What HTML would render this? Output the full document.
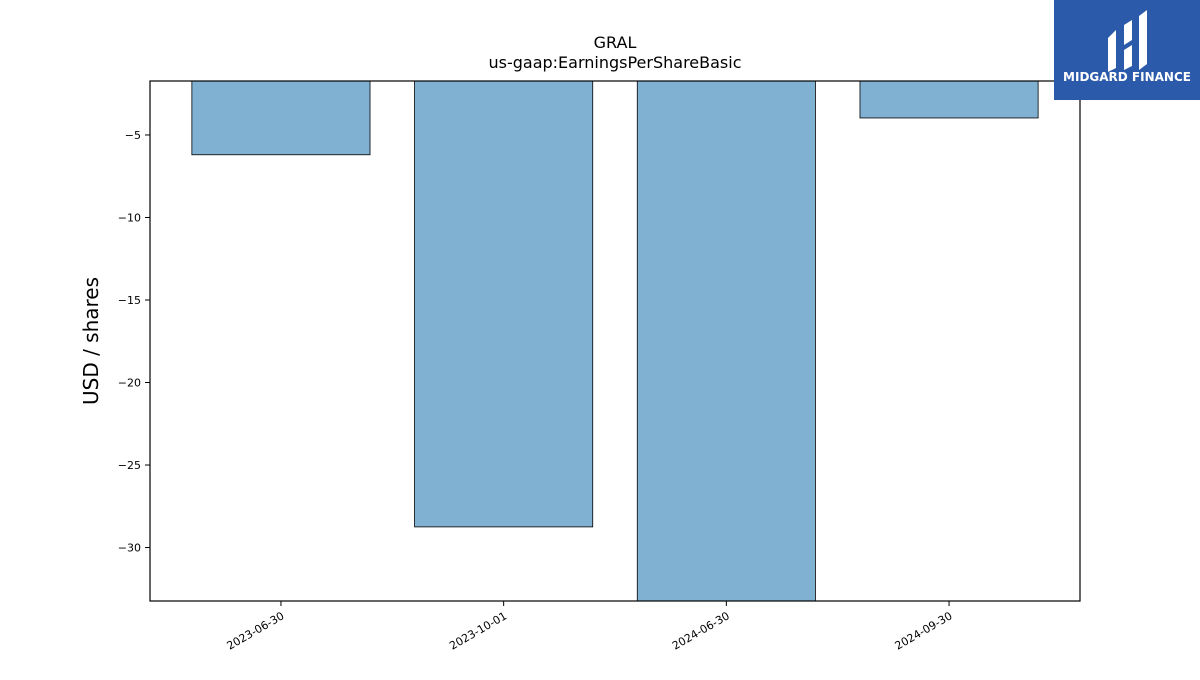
<!DOCTYPE html>
<html><head><meta charset="utf-8"><style>
body{margin:0;background:#fff;font-family:"Liberation Sans","DejaVu Sans",sans-serif}
</style></head><body>
<svg id="chart" width="1200" height="675" xmlns="http://www.w3.org/2000/svg" font-family="DejaVu Sans, Liberation Sans, sans-serif">
<rect width="1200" height="675" fill="#fff"/>
<text x="615" y="48" text-anchor="middle" font-size="16">GRAL</text>
<text x="615" y="68" text-anchor="middle" font-size="16">us-gaap:EarningsPerShareBasic</text>
<text transform="translate(98,341) rotate(-90)" text-anchor="middle" font-size="20">USD / shares</text>
<g id="bars"></g>
<g id="yticks"></g>
<g id="xticks"></g>
<rect x="150" y="81" width="930" height="520" fill="none" stroke="#000" stroke-width="1.2"/>
<g>
<rect x="1054" y="0" width="146" height="100" fill="#2b5aab"/>
<path d="M1108 38 L1116 30 L1116 68 L1108 72 Z M1124 25 L1132 20 L1132 40 L1124 45 Z M1124 50 L1132 45 L1132 66 L1124 70 Z M1139 16 L1147 10 L1147 64 L1139 70 Z" fill="#fff"/>
<text x="1127" y="81" text-anchor="middle" fill="#fff" font-size="12" font-weight="bold">MIDGARD FINANCE</text>
</g>
</svg>
<script>
const categories=["2023-06-30","2023-10-01","2024-06-30","2024-09-30"];
const values=[-6.2,-28.75,-35,-3.97];
const yTicks=[-5,-10,-15,-20,-25,-30];
const NS="http://www.w3.org/2000/svg";
const px0=150,px1=1080,py0=81,py1=601;
const yMin=-33.24,yMax=-1.73;
const xMin=-0.588,xMax=3.588;
const xs=v=>px0+(v-xMin)/(xMax-xMin)*(px1-px0);
const ys=v=>py0+(yMax-v)/(yMax-yMin)*(py1-py0);
function mk(t,a,p){const e=document.createElementNS(NS,t);for(const k in a)e.setAttribute(k,a[k]);p.appendChild(e);return e;}
const bw=0.8*(xs(1)-xs(0));
const bg=document.getElementById('bars');
values.forEach((v,i)=>{
 const top=ys(yMax),bot=Math.min(ys(v),py1);
 const r=mk('rect',{x:xs(i)-bw/2,y:top,width:bw,height:bot-top,fill:'#80b1d3',stroke:'#000','stroke-width':0.8},bg);
 
 
});
const yg=document.getElementById('yticks');
yTicks.forEach(t=>{
 const y=ys(t);
 const l=mk('line',{x1:145,x2:150,y1:y,y2:y,stroke:'#000'},yg);
 
 
 const tx=mk('text',{x:141,y:y+4,'text-anchor':'end','font-size':11},yg);
 
 
 tx.textContent='\u2212'+Math.abs(t);
});
const xg=document.getElementById('xticks');
categories.forEach((c,i)=>{
 const x=xs(i);
 const l=mk('line',{x1:x,x2:x,y1:601,y2:606,stroke:'#000'},xg);
 
 
 const tx=mk('text',{transform:`translate(${x+4},${618}) rotate(-30)`,'text-anchor':'end','font-size':11},xg);
 
 
 tx.textContent=c;
});
</script>
</body></html>
